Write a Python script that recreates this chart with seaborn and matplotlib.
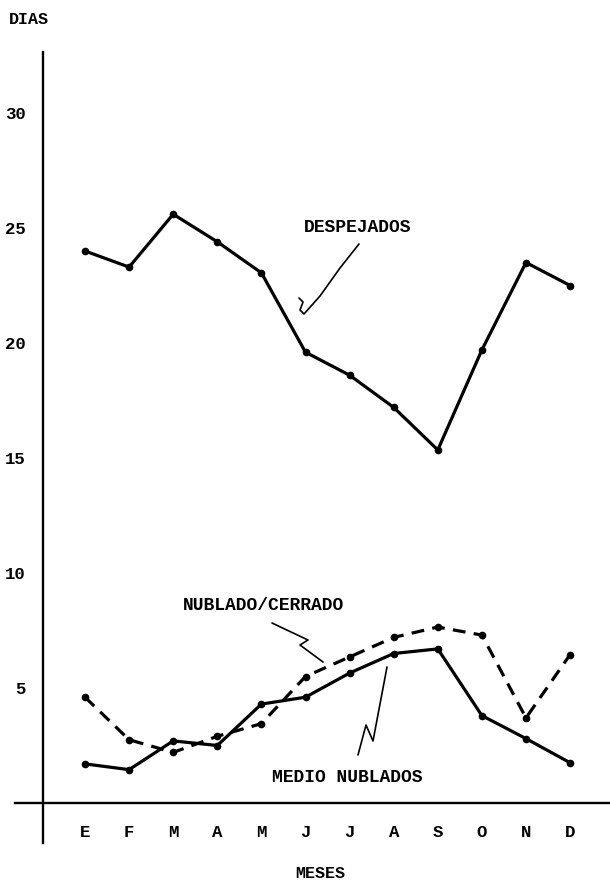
import numpy as np
import pandas as pd
import matplotlib
matplotlib.use('Agg')
import matplotlib.pyplot as plt
import seaborn as sns

# dias por mes
meses = ['E', 'F', 'M', 'A', 'M', 'J', 'J', 'A', 'S', 'O', 'N', 'D']
despejados = [24.0, 23.3, 25.6, 24.4, 23.05, 19.6, 18.6, 17.2, 15.35, 19.7, 23.5, 22.5]
nublado_cerrado = [4.6, 2.75, 2.2, 2.9, 3.45, 5.5, 6.35, 7.2, 7.65, 7.3, 3.7, 6.45]
medio_nublados = [1.7, 1.45, 2.7, 2.5, 4.3, 4.6, 5.65, 6.5, 6.7, 3.8, 2.8, 1.75]
y_ticks = [5, 10, 15, 20, 25, 30]

W, H = 610, 884


def fig_xy(px, py):
    # pixel -> figure fraction, for the hand drawn leader lines and labels
    return px / W, 1 - py / H


if __name__ == "__main__":
    sns.set_style('white')
    plt.rcParams['font.family'] = ['Liberation Mono', 'DejaVu Sans Mono']
    plt.rcParams['font.weight'] = 'bold'
    plt.rcParams['text.color'] = 'black'

    pos = np.arange(len(meses))
    df = pd.DataFrame({'pos': pos, 'desp': despejados,
                       'nub': nublado_cerrado, 'medio': medio_nublados})

    fig = plt.figure(figsize=(W / 100, H / 100), dpi=100)
    ax = fig.add_axes([0, 0, 1, 1])
    ax.set_facecolor('white')

    line_kw = dict(color='black', marker='o', markersize=5.5, mec='black',
                   mew=0, lw=2.3, ax=ax)
    sns.lineplot(data=df, x='pos', y='desp', **line_kw)
    sns.lineplot(data=df, x='pos', y='medio', **line_kw)
    sns.lineplot(data=df, x='pos', y='nub', linestyle=(0, (4, 2.6)), **line_kw)

    ax.set_xlim(-85 / 44.1, (W - 85) / 44.1)
    ax.set_ylim((803 - H) / 23, 803 / 23)

    for s in ['top', 'right']:
        ax.spines[s].set_visible(False)
    ax.spines['left'].set_position(('data', -0.96))
    ax.spines['left'].set_bounds(-1.74, 32.65)
    ax.spines['bottom'].set_position(('data', 0))
    ax.spines['bottom'].set_bounds((15 - 85) / 44.1, (W - 85) / 44.1)
    for s in ['left', 'bottom']:
        ax.spines[s].set_linewidth(1.7)
        ax.spines[s].set_color('black')

    ax.set_xticks(pos)
    ax.set_xticklabels(meses)
    ax.set_yticks(y_ticks)
    ax.set_yticklabels([str(v) for v in y_ticks])
    ax.tick_params(axis='y', direction='inout', length=11, width=1.5,
                   pad=6.5, labelsize=12.5, colors='black')
    ax.tick_params(axis='x', direction='inout', length=13, width=1.5,
                   pad=9.5, labelsize=12.5, colors='black')
    ax.set_xlabel('')
    ax.set_ylabel('')

    # axis titles
    fig.text(*fig_xy(29, 19), 'DIAS', ha='center', va='center', fontsize=12)
    fig.text(*fig_xy(320, 873), 'MESES', ha='center', va='center', fontsize=12)

    # series labels
    fig.text(*fig_xy(358, 227), 'DESPEJADOS', ha='center', va='center', fontsize=13)
    fig.text(*fig_xy(263, 605), 'NUBLADO/CERRADO', ha='center', va='center', fontsize=13)
    fig.text(*fig_xy(347, 778), 'MEDIO NUBLADOS', ha='center', va='center', fontsize=13)

    # hand drawn leader lines
    leaders = [
        [(359, 244), (340, 268), (320, 296), (304, 314), (300, 310), (303, 302), (299, 298)],
        [(272, 623), (308, 640), (300, 645), (323, 662)],
        [(387, 667), (373, 741), (366, 725), (358, 755)],
    ]
    for path in leaders:
        xs, ys = zip(*[fig_xy(px, py) for px, py in path])
        fig.add_artist(plt.Line2D(xs, ys, color='black', lw=1.2,
                                  transform=fig.transFigure))

    fig.savefig('out.png', dpi=100, facecolor='white')
